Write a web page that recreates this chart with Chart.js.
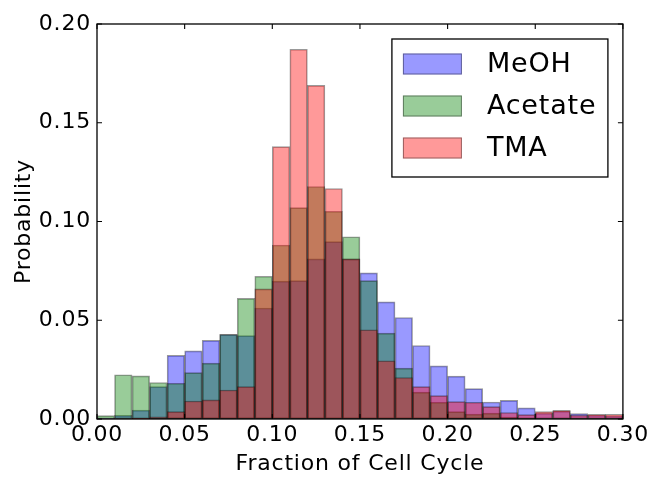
<!DOCTYPE html>
<html>
<head>
<meta charset="utf-8">
<script src="https://cdn.jsdelivr.net/npm/chart.js@4/dist/chart.umd.min.js"></script>
<style>
  html, body { margin: 0; padding: 0; background: #ffffff; }
  #wrap { width: 652px; height: 477px; position: relative; }
</style>
</head>
<body>
<div id="wrap"><canvas id="c" width="652" height="477"></canvas></div>
<script>
// Bin left edges (bin width 0.01)
const binStarts = ["0.00","0.01","0.02","0.03","0.04","0.05","0.06","0.07","0.08","0.09",
                   "0.10","0.11","0.12","0.13","0.14","0.15","0.16","0.17","0.18","0.19",
                   "0.20","0.21","0.22","0.23","0.24","0.25","0.26","0.27","0.28","0.29"];

const meoh = [0.0005, 0.0018, 0.0045, 0.0164, 0.0322, 0.0345, 0.0398, 0.0429, 0.0422, 0.0562,
              0.0698, 0.0701, 0.0811, 0.0898, 0.0811, 0.0740, 0.0593, 0.0514, 0.0372, 0.0269,
              0.0217, 0.0154, 0.0086, 0.0094, 0.0056, 0.0030, 0.0040, 0.0027, 0.0020, 0.0016];

const acetate = [0.0017, 0.0224, 0.0218, 0.0185, 0.0181, 0.0235, 0.0283, 0.0428, 0.0611, 0.0723,
                 0.0881, 0.1070, 0.1177, 0.1052, 0.0923, 0.0701, 0.0435, 0.0258, 0.0136, 0.0085,
                 0.0037, 0.0025, 0.0030, 0.0010, 0.0005, 0.0002, 0.0005, 0.0002, 0.0002, 0.0002];

const tma = [0.0000, 0.0000, 0.0003, 0.0011, 0.0037, 0.0091, 0.0097, 0.0147, 0.0164, 0.0659,
             0.1379, 0.1872, 0.1689, 0.1167, 0.0811, 0.0452, 0.0295, 0.0210, 0.0164, 0.0118,
             0.0088, 0.0085, 0.0063, 0.0033, 0.0022, 0.0037, 0.0044, 0.0020, 0.0024, 0.0024];

const seriesNames = ["MeOH", "Acetate", "TMA"];
const xTicks = [0.00, 0.05, 0.10, 0.15, 0.20, 0.25, 0.30];
const yTicks = [0.00, 0.05, 0.10, 0.15, 0.20];

const FONT = "'DejaVu Sans', 'Liberation Sans', sans-serif";
const fills = ["rgba(0,0,255,0.4)", "rgba(0,128,0,0.4)", "rgba(255,0,0,0.4)"];
const edge = "rgba(0,0,0,0.4)";
const SPACING = '0.8px';

const spacingPlugin = {
  id: 'spacing',
  beforeUpdate(chart) { chart.ctx.letterSpacing = SPACING; },
  beforeLayout(chart) { chart.ctx.letterSpacing = SPACING; },
  beforeDraw(chart) { chart.ctx.letterSpacing = SPACING; }
};

const framePlugin = {
  id: 'frame',
  afterDatasetsDraw(chart) {
    const ctx = chart.ctx, a = chart.chartArea;
    const xs = chart.scales.xl, ys = chart.scales.y;
    ctx.save();
    ctx.strokeStyle = '#000';
    ctx.lineWidth = 1.3;
    ctx.strokeRect(a.left, a.top, a.right - a.left, a.bottom - a.top);
    ctx.lineWidth = 1.1;
    const L = 5;
    ctx.beginPath();
    xTicks.forEach(v => {
      const px = xs.getPixelForValue(v);
      ctx.moveTo(px, a.bottom); ctx.lineTo(px, a.bottom - L);
      ctx.moveTo(px, a.top); ctx.lineTo(px, a.top + L);
    });
    yTicks.forEach(v => {
      const py = ys.getPixelForValue(v);
      ctx.moveTo(a.left, py); ctx.lineTo(a.left + L, py);
      ctx.moveTo(a.right, py); ctx.lineTo(a.right - L, py);
    });
    ctx.stroke();

    // legend box
    const bx = a.right - 15, by = a.top + 15;
    const bw = 216, bh = 138;
    ctx.fillStyle = '#fff';
    ctx.fillRect(bx - bw, by, bw, bh);
    ctx.lineWidth = 1.3;
    ctx.strokeStyle = '#000';
    ctx.strokeRect(bx - bw, by, bw, bh);
    ctx.font = "27px " + FONT;
    ctx.letterSpacing = SPACING;
    ctx.textBaseline = 'middle';
    ctx.textAlign = 'left';
    chart.data.datasets.forEach((ds, i) => {
      const cy = by + 25 + i * 42;
      const px = bx - bw + 11;
      ctx.fillStyle = ds.backgroundColor;
      ctx.fillRect(px, cy - 10.5, 59, 21);
      ctx.strokeStyle = edge;
      ctx.lineWidth = 1;
      ctx.strokeRect(px + 0.5, cy - 10, 58, 20);
      ctx.fillStyle = '#000';
      ctx.fillText(ds.label, bx - bw + 95, cy + 1);
    });
    ctx.restore();
  }
};

new Chart(document.getElementById('c'), {
  type: 'bar',
  data: {
    labels: binStarts,
    datasets: [
      { label: seriesNames[0], data: meoh, backgroundColor: fills[0], borderColor: edge, borderWidth: 1, borderSkipped: false, order: 3 },
      { label: seriesNames[1], data: acetate, backgroundColor: fills[1], borderColor: edge, borderWidth: 1, borderSkipped: false, order: 2 },
      { label: seriesNames[2], data: tma, backgroundColor: fills[2], borderColor: edge, borderWidth: 1, borderSkipped: false, order: 1 }
    ]
  },
  options: {
    responsive: false,
    animation: false,
    devicePixelRatio: 1,
    layout: { padding: { left: 0, right: 29, top: 24, bottom: 0 } },
    datasets: { bar: { grouped: false, categoryPercentage: 1.0, barPercentage: 1.0 } },
    plugins: { legend: { display: false }, tooltip: { enabled: false } },
    scales: {
      x: { display: false, offset: true, grid: { display: false } },
      xl: {
        type: 'linear', position: 'bottom', min: 0, max: 0.3, offset: false,
        afterBuildTicks(s) { s.ticks = xTicks.map(v => ({ value: v })); },
        afterFit(s) { s.height = 58; },
        grid: { display: false, drawTicks: false, offset: false },
        border: { display: false },
        ticks: { color: '#000', padding: 3, font: { family: FONT, size: 22 }, maxRotation: 0,
                 callback: v => Number(v).toFixed(2) },
        title: { display: true, text: 'Fraction of Cell Cycle', color: '#000',
                 font: { family: FONT, size: 22 }, padding: { top: 0, bottom: 0 } }
      },
      y: {
        min: 0, max: 0.2,
        afterBuildTicks(s) { s.ticks = yTicks.map(v => ({ value: v })); },
        afterFit(s) { s.width = 97; },
        grid: { display: false, drawTicks: false },
        border: { display: false },
        ticks: { color: '#000', padding: 6, font: { family: FONT, size: 22 },
                 callback: v => Number(v).toFixed(2) },
        title: { display: true, text: 'Probability', color: '#000',
                 font: { family: FONT, size: 22 }, padding: { top: 11, bottom: 0 } }
      }
    }
  },
  plugins: [spacingPlugin, framePlugin]
});
</script>
</body>
</html>
